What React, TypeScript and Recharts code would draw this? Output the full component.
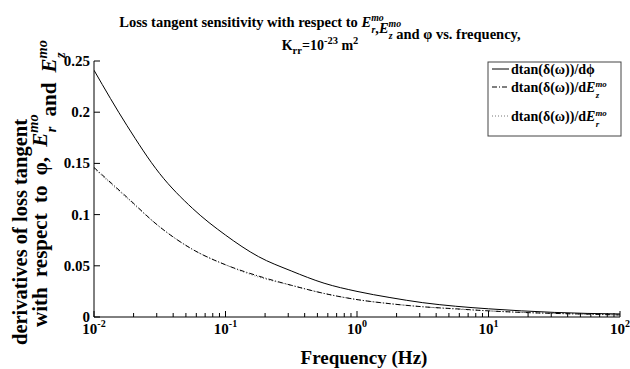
import { LineChart, Line, XAxis, YAxis } from 'recharts'

// ─── Data ───────────────────────────────────────────────────────────────────

const freqHz = [
  0.01, 0.0178, 0.0316, 0.0562, 0.1, 0.178, 0.316, 0.562, 1, 1.78, 3.16, 5.62,
  10, 17.8, 31.6, 56.2, 100,
]
const dTanDPhi = [
  0.241, 0.187, 0.14, 0.106, 0.08, 0.059, 0.045, 0.033, 0.025, 0.019, 0.014,
  0.0105, 0.008, 0.006, 0.0045, 0.0035, 0.003,
]
const dTanDEz = [
  0.146, 0.117, 0.088, 0.066, 0.051, 0.04, 0.031, 0.023, 0.017, 0.013, 0.01,
  0.008, 0.006, 0.0045, 0.0035, 0.0028, 0.002,
]
const dTanDEr = [
  0.145, 0.116, 0.088, 0.066, 0.051, 0.039, 0.031, 0.023, 0.017, 0.013, 0.01,
  0.0078, 0.006, 0.0045, 0.0035, 0.0027, 0.002,
]
const yTicks = [0, 0.05, 0.1, 0.15, 0.2, 0.25]
const yTickLabels = ['0', '0.05', '0.1', '0.15', '0.2', '0.25']
const decades = [-2, -1, 0, 1, 2]

const data = freqHz.map((f, i) => ({
  f,
  phi: dTanDPhi[i],
  ez: dTanDEz[i],
  er: dTanDEr[i],
}))

// log ticks: majors at decades, minors at 2..9
const xTicks: number[] = []
decades.forEach((d, i) => {
  const base = Math.pow(10, d)
  xTicks.push(base)
  if (i < decades.length - 1) {
    for (let k = 2; k <= 9; k++) xTicks.push(k * base)
  }
})

const isMajor = (v: number) => {
  const l = Math.log10(v)
  return Math.abs(l - Math.round(l)) < 1e-9
}

const FONT = '"Liberation Serif", "Times New Roman", serif'

// ─── Tick renderers ──────────────────────────────────────────────────────────

// eslint-disable-next-line @typescript-eslint/no-explicit-any
function BottomTick(props: any) {
  const { x, y, payload } = props
  const v = payload.value as number
  const major = isMajor(v)
  const len = major ? 6 : 4
  return (
    <g>
      <line x1={x} y1={y} x2={x} y2={y - len} stroke="#000" strokeWidth={1} />
      {major && (
        <text
          x={x}
          y={y + 17}
          textAnchor="middle"
          fontFamily={FONT}
          fontWeight="bold"
          fontSize={15}
          fill="#000"
        >
          10
          <tspan dy={-7} fontSize={10}>
            {Math.round(Math.log10(v))}
          </tspan>
        </text>
      )}
    </g>
  )
}

// eslint-disable-next-line @typescript-eslint/no-explicit-any
function TopTick(props: any) {
  const { x, y, payload } = props
  const len = isMajor(payload.value) ? 6 : 4
  return <line x1={x} y1={y} x2={x} y2={y + len} stroke="#000" strokeWidth={1} />
}

// eslint-disable-next-line @typescript-eslint/no-explicit-any
function LeftTick(props: any) {
  const { x, y, payload } = props
  const idx = yTicks.indexOf(payload.value)
  return (
    <g>
      <line x1={x} y1={y} x2={x + 6} y2={y} stroke="#000" strokeWidth={1} />
      <text
        x={x - 4}
        y={y + 5}
        textAnchor="end"
        fontFamily={FONT}
        fontWeight="bold"
        fontSize={15}
        fill="#000"
      >
        {yTickLabels[idx]}
      </text>
    </g>
  )
}

// eslint-disable-next-line @typescript-eslint/no-explicit-any
function RightTick(props: any) {
  const { x, y } = props
  return <line x1={x} y1={y} x2={x - 6} y2={y} stroke="#000" strokeWidth={1} />
}

// ─── E with stacked super/subscript ─────────────────────────────────────────

function ESupSub({ sub, size }: { sub: string; size: number }) {
  const s = size * 0.68
  return (
    <>
      <tspan fontStyle="italic">E</tspan>
      <tspan fontStyle="italic" fontSize={s} dy={-size * 0.42}>
        mo
      </tspan>
      <tspan fontStyle="italic" fontSize={s} dx={-s * 1.25} dy={size * 0.85}>
        {sub}
      </tspan>
      <tspan dx={s * 0.95} dy={-size * 0.43} />
    </>
  )
}

// ─── Main ────────────────────────────────────────────────────────────────────

export default function App() {
  return (
    <div style={{ position: 'fixed', left: 0, top: 0, width: 630, height: 369, background: '#fff' }}>
      <LineChart
        width={630}
        height={369}
        data={data}
        margin={{ top: 61, right: 10, bottom: 0, left: 0 }}
      >
        <XAxis
          xAxisId="bottom"
          dataKey="f"
          type="number"
          scale="log"
          domain={[0.01, 100]}
          ticks={xTicks}
          interval={0}
          allowDataOverflow
          height={52}
          tickSize={0}
          tickMargin={0}
          tickLine={false}
          axisLine={{ stroke: '#000' }}
          tick={<BottomTick />}
        />
        <XAxis
          xAxisId="top"
          orientation="top"
          dataKey="f"
          type="number"
          scale="log"
          domain={[0.01, 100]}
          ticks={xTicks}
          interval={0}
          allowDataOverflow
          height={0}
          tickSize={0}
          tickMargin={0}
          tickLine={false}
          axisLine={{ stroke: '#000' }}
          tick={<TopTick />}
        />
        <YAxis
          yAxisId="left"
          domain={[0, 0.25]}
          ticks={yTicks}
          interval={0}
          width={94}
          tickSize={0}
          tickMargin={0}
          tickLine={false}
          axisLine={{ stroke: '#000' }}
          tick={<LeftTick />}
        />
        <YAxis
          yAxisId="right"
          orientation="right"
          domain={[0, 0.25]}
          ticks={yTicks}
          interval={0}
          width={0}
          tickSize={0}
          tickMargin={0}
          tickLine={false}
          axisLine={{ stroke: '#000' }}
          tick={<RightTick />}
        />
        <Line
          xAxisId="top"
          yAxisId="right"
          dataKey="phi"
          stroke="none"
          dot={false}
          activeDot={false}
          isAnimationActive={false}
        />
        <Line
          xAxisId="bottom"
          yAxisId="left"
          type="monotone"
          dataKey="er"
          stroke="#777"
          strokeWidth={1}
          strokeDasharray="1 2"
          dot={false}
          isAnimationActive={false}
        />
        <Line
          xAxisId="bottom"
          yAxisId="left"
          type="monotone"
          dataKey="ez"
          stroke="#000"
          strokeWidth={1}
          strokeDasharray="5 2 1 2"
          dot={false}
          isAnimationActive={false}
        />
        <Line
          xAxisId="bottom"
          yAxisId="left"
          type="monotone"
          dataKey="phi"
          stroke="#000"
          strokeWidth={1}
          dot={false}
          isAnimationActive={false}
        />
      </LineChart>

      {/* overlay: titles, labels, legend */}
      <svg
        width={630}
        height={369}
        style={{ position: 'absolute', left: 0, top: 0, pointerEvents: 'none' }}
        fontFamily={FONT}
        fontWeight="bold"
      >
        <text x={320} y={27} textAnchor="middle" fontSize={14.5}>
          Loss tangent sensitivity with respect to <ESupSub sub="r" size={14.5} />,
          <ESupSub sub="z" size={14.5} /> and φ vs. frequency,
        </text>
        <text x={320} y={50} textAnchor="middle" fontSize={14}>
          K
          <tspan fontSize={10.5} dy={4}>
            rr
          </tspan>
          <tspan dy={-4}>=10</tspan>
          <tspan fontSize={10.5} dy={-6}>
            -23
          </tspan>
          <tspan dy={6}> m</tspan>
          <tspan fontSize={10.5} dy={-6}>
            2
          </tspan>
        </text>

        <text x={364} y={364} textAnchor="middle" fontSize={19}>
          Frequency (Hz)
        </text>

        <text transform="translate(27,345) rotate(-90)" fontSize={20.5}>
          derivatives of loss tangent
        </text>
        <text transform="translate(47,327) rotate(-90)" fontSize={21} wordSpacing={5}>
          with respect to φ, <ESupSub sub="r" size={21} /> and <ESupSub sub="z" size={21} />
        </text>

        <rect x={488} y={62} width={133} height={74} fill="#fff" stroke="#444" strokeWidth={1} />
        <line x1={492} y1={69} x2={509} y2={69} stroke="#000" />
        <text x={511} y={74} fontSize={14}>
          dtan(δ(ω))/dϕ
        </text>
        <line x1={492} y1={87} x2={509} y2={87} stroke="#000" strokeDasharray="5 2 1 2" />
        <text x={511} y={92} fontSize={14}>
          dtan(δ(ω))/d<ESupSub sub="z" size={13} />
        </text>
        <line x1={492} y1={116} x2={509} y2={116} stroke="#777" strokeDasharray="1 2" />
        <text x={511} y={121} fontSize={14}>
          dtan(δ(ω))/d<ESupSub sub="r" size={13} />
        </text>
      </svg>
    </div>
  )
}
